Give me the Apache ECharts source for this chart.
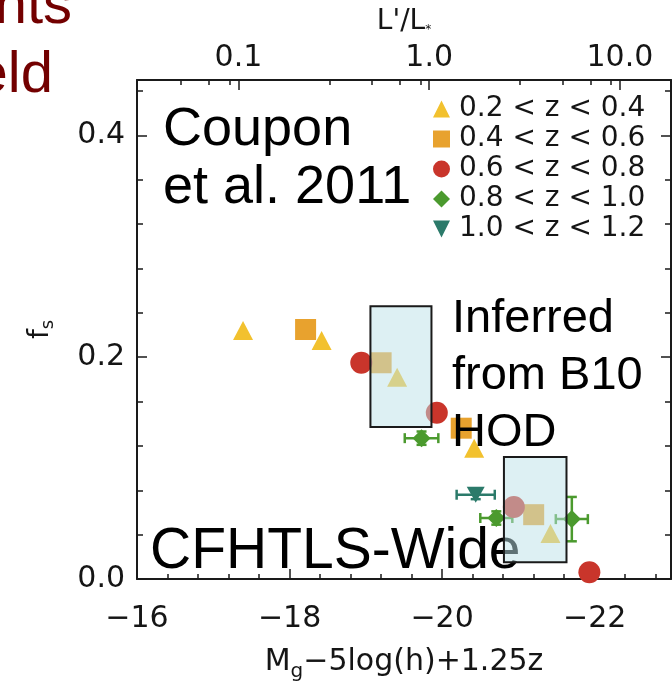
<!DOCTYPE html>
<html>
<head>
<meta charset="utf-8">
<script src="https://cdn.jsdelivr.net/npm/echarts@6/dist/echarts.min.js"></script>
<style>
  html, body { margin: 0; padding: 0; background: #fff; }
  #chart { width: 672px; height: 682px; }
</style>
</head>
<body>
<div id="chart"></div>
<script>
// redshift bins
const bins = ['0.2 < z < 0.4', '0.4 < z < 0.6', '0.6 < z < 0.8', '0.8 < z < 1.0', '1.0 < z < 1.2']
const binColors = ['#f2c12e', '#e8a22e', '#c9352b', '#4b9a2e', '#2b7a6a']

// M_g - 5log(h) + 1.25z  and  f_s, one pair of arrays per bin
const magZ1 = [-17.39, -18.42, -19.41, -20.42, -21.42]
const fsZ1  = [0.224, 0.215, 0.182, 0.118, 0.041]
const magZ2 = [-18.21, -19.20, -20.25, -21.20]
const fsZ2  = [0.225, 0.195, 0.136, 0.058]
const magZ3 = [-18.94, -19.93, -20.94, -21.93]
const fsZ3  = [0.195, 0.150, 0.065, 0.006]
const magZ4 = [-19.73, -20.71, -21.70]
const fsZ4  = [0.127, 0.055, 0.054]
const magErrZ4 = [0.22, 0.21, 0.21]
const fsErrZ4  = [0.006, 0.006, 0.020]
const magZ5 = [-20.44]
const fsZ5  = [0.076]
const magErrZ5 = [0.25]
const fsErrZ5  = [0.004]

// "inferred from B10 HOD" boxes
const boxMagFaint  = [-19.06, -20.81]
const boxMagBright = [-19.86, -21.63]
const boxFsLow  = [0.137, 0.015]
const boxFsHigh = [0.246, 0.110]

// axes
const xTicks = [-16, -18, -20, -22]
const xMinor = [-16.4, -16.8, -17.2, -17.6, -18.4, -18.8, -19.2, -19.6,
                -20.4, -20.8, -21.2, -21.6, -22.4, -22.8]
const yTicks = [0, 0.2, 0.4]
const yMinor = [0.04, 0.08, 0.12, 0.16, 0.24, 0.28, 0.32, 0.36, 0.44]
const lumTicks  = [0.1, 1, 10]
const lumLabels = ['0.1', '1.0', '10.0']
const lumMinor  = [0.05, 0.07, 0.09, 0.3, 0.5, 0.7, 0.9, 3, 5, 7, 9]
const mStar = -19.83

const INK = '#1a1a1a'
const TXT = '#151515'
const TICK_FONT = 'DejaVu Sans'
const SANS = 'Liberation Sans'

const magOfLum = L => mStar - 2.5 * Math.log10(L)
const lumMags = lumTicks.map(magOfLum)
const lumMinorMags = lumMinor.map(magOfLum)

const zip = (a, b) => a.map((v, i) => [v, b[i]])
const zip4 = (a, b, c, d) => a.map((v, i) => [v, b[i], c[i], d[i]])

const xRange = { type: 'value', min: -23, max: -16, inverse: true, splitLine: { show: false } }
const yRange = { type: 'value', min: 0, max: 0.45, splitLine: { show: false } }

function ticksOnly(base, position, values, len, showLine) {
  return Object.assign({}, base, {
    position,
    axisLine: { show: showLine, onZero: false, lineStyle: { color: INK, width: 2 } },
    axisTick: { show: true, inside: true, length: len, customValues: values,
                lineStyle: { color: INK, width: 1.5 } },
    axisLabel: { show: false },
  })
}

const labelStyle = { fontFamily: TICK_FONT, fontSize: 30, color: TXT }

function errorItem(color) {
  return (params, api) => {
    const m = api.value(0), f = api.value(1), em = api.value(2), ef = api.value(3)
    const l = api.coord([m - em, f]), r = api.coord([m + em, f])
    const b = api.coord([m, f - ef]), t = api.coord([m, f + ef])
    const cap = 5
    const st = { stroke: color, lineWidth: 2.5 }
    const seg = (x1, y1, x2, y2) => ({ type: 'line', shape: { x1, y1, x2, y2 }, style: st })
    return { type: 'group', children: [
      seg(l[0], l[1], r[0], r[1]),
      seg(l[0], l[1] - cap, l[0], l[1] + cap),
      seg(r[0], r[1] - cap, r[0], r[1] + cap),
      seg(b[0], b[1], t[0], t[1]),
      seg(b[0] - cap, b[1], b[0] + cap, b[1]),
      seg(t[0] - cap, t[1], t[0] + cap, t[1]),
    ] }
  }
}

function boxItem(params, api) {
  const p0 = api.coord([api.value(0), api.value(3)])
  const p1 = api.coord([api.value(1), api.value(2)])
  return {
    type: 'rect',
    shape: { x: Math.min(p0[0], p1[0]), y: Math.min(p0[1], p1[1]),
             width: Math.abs(p1[0] - p0[0]), height: Math.abs(p1[1] - p0[1]) },
    style: { fill: 'rgba(187,225,231,0.5)', stroke: INK, lineWidth: 2 },
  }
}

const downTri = 'path://M0,0 L10,0 L5,10 Z'

const chart = echarts.init(document.getElementById('chart'), null, { renderer: 'canvas' })

chart.setOption({
  animation: false,
  backgroundColor: '#fff',
  grid: { left: 137, right: 1, top: 80, bottom: 103, containLabel: false, outerBoundsMode: 'none' },
  legend: {
    orient: 'vertical', left: 428, top: 90,
    itemWidth: 17, itemHeight: 17, itemGap: 2,
    selectedMode: false,
    textStyle: { fontFamily: TICK_FONT, fontSize: 28, color: TXT, padding: [0, 0, 0, 4] },
    data: bins,
  },
  xAxis: [
    Object.assign({}, xRange, {
      position: 'bottom',
      axisLine: { show: true, onZero: false, lineStyle: { color: INK, width: 2 } },
      axisTick: { show: true, inside: true, length: 10, customValues: xTicks,
                  lineStyle: { color: INK, width: 1.5 } },
      axisLabel: Object.assign({ customValues: xTicks, margin: 25,
                                 formatter: v => '\u2212' + Math.abs(v) }, labelStyle),
      name: '{m|M}{s|g}{m|\u22125log(h)+1.25z}',
      nameLocation: 'middle', nameGap: 63,
      nameTextStyle: { rich: {
        m: { fontFamily: TICK_FONT, fontSize: 30, color: TXT },
        s: { fontFamily: TICK_FONT, fontSize: 20, color: TXT, padding: [20, 0, 0, 0] },
      } },
    }),
    ticksOnly(xRange, 'bottom', xMinor, 5, false),
    Object.assign({}, xRange, {
      position: 'top',
      axisLine: { show: true, onZero: false, lineStyle: { color: INK, width: 2 } },
      axisTick: { show: true, inside: true, length: 10, customValues: lumMags,
                  lineStyle: { color: INK, width: 1.5 } },
      axisLabel: Object.assign({ customValues: lumMags, margin: 7,
        formatter: v => lumLabels[lumMags.findIndex(m => Math.abs(m - v) < 1e-6)] }, labelStyle),
      name: "{m|L'/L}{s|*}",
      nameLocation: 'middle', nameGap: 44, nameMoveOverlap: false,
      nameTextStyle: { rich: {
        m: { fontFamily: TICK_FONT, fontSize: 28, color: TXT },
        s: { fontFamily: TICK_FONT, fontSize: 12, color: TXT, padding: [16, 0, 0, 0] },
      } },
    }),
    ticksOnly(xRange, 'top', lumMinorMags, 5, false),
  ],
  yAxis: [
    Object.assign({}, yRange, {
      position: 'left',
      axisLine: { show: true, onZero: false, lineStyle: { color: INK, width: 2 } },
      axisTick: { show: true, inside: true, length: 10, customValues: yTicks,
                  lineStyle: { color: INK, width: 1.5 } },
      axisLabel: Object.assign({ customValues: yTicks, margin: 12,
                                 formatter: v => v.toFixed(1) }, labelStyle),
      name: '{m|f}{s|s}',
      nameLocation: 'middle', nameGap: 80, nameRotate: 90,
      nameTextStyle: { rich: {
        m: { fontFamily: TICK_FONT, fontSize: 28, color: TXT },
        s: { fontFamily: TICK_FONT, fontSize: 18, color: TXT, padding: [14, 0, 0, 0] },
      } },
    }),
    ticksOnly(yRange, 'left', yMinor, 6, false),
    ticksOnly(yRange, 'right', yTicks, 10, true),
    ticksOnly(yRange, 'right', yMinor, 6, false),
  ],
  series: [
    { type: 'custom', name: 'err4', renderItem: errorItem(binColors[3]), z: 1,
      encode: { x: 0, y: 1 }, data: zip4(magZ4, fsZ4, magErrZ4, fsErrZ4) },
    { type: 'custom', name: 'err5', renderItem: errorItem(binColors[4]), z: 1,
      encode: { x: 0, y: 1 }, data: zip4(magZ5, fsZ5, magErrZ5, fsErrZ5) },
    { type: 'scatter', name: bins[0], symbol: 'triangle', symbolSize: [20, 19],
      itemStyle: { color: binColors[0], opacity: 1 }, z: 2, data: zip(magZ1, fsZ1) },
    { type: 'scatter', name: bins[1], symbol: 'rect', symbolSize: 21,
      itemStyle: { color: binColors[1], opacity: 1 }, z: 2, data: zip(magZ2, fsZ2) },
    { type: 'scatter', name: bins[2], symbol: 'circle', symbolSize: 22,
      itemStyle: { color: binColors[2], opacity: 1 }, z: 2, data: zip(magZ3, fsZ3) },
    { type: 'scatter', name: bins[3], symbol: 'diamond', symbolSize: 18,
      itemStyle: { color: binColors[3], opacity: 1 }, z: 2, data: zip(magZ4, fsZ4) },
    { type: 'scatter', name: bins[4], symbol: downTri, symbolSize: [18, 16],
      itemStyle: { color: binColors[4], opacity: 1 }, z: 2, data: zip(magZ5, fsZ5) },
    { type: 'custom', name: 'B10 HOD', renderItem: boxItem, z: 5,
      encode: { x: [0, 1], y: [2, 3] },
      data: zip4(boxMagFaint, boxMagBright, boxFsLow, boxFsHigh) },
  ],
  graphic: [
    { type: 'text', x: 72, y: 7, z: 10,
      style: { text: 'nts', fontFamily: SANS, fontSize: 58, fill: '#730000', align: 'right', verticalAlign: 'middle' } },
    { type: 'text', x: 53, y: 76, z: 10,
      style: { text: 'eld', fontFamily: SANS, fontSize: 58, fill: '#730000', align: 'right', verticalAlign: 'middle' } },
    { type: 'text', x: 163, y: 101, z: 10,
      style: { text: 'Coupon\net al. 2011', fontFamily: SANS, fontSize: 54, lineHeight: 58,
               fill: '#000', align: 'left', verticalAlign: 'top' } },
    { type: 'text', x: 452, y: 291, z: 10,
      style: { text: 'Inferred\nfrom B10\nHOD', fontFamily: SANS, fontSize: 47, lineHeight: 57,
               fill: '#000', align: 'left', verticalAlign: 'top' } },
    { type: 'text', x: 150, y: 552, z: 4,
      style: { text: 'CFHTLS-Wide', fontFamily: SANS, fontSize: 57,
               fill: '#000', align: 'left', verticalAlign: 'middle' } },
  ],
})
</script>
</body>
</html>
